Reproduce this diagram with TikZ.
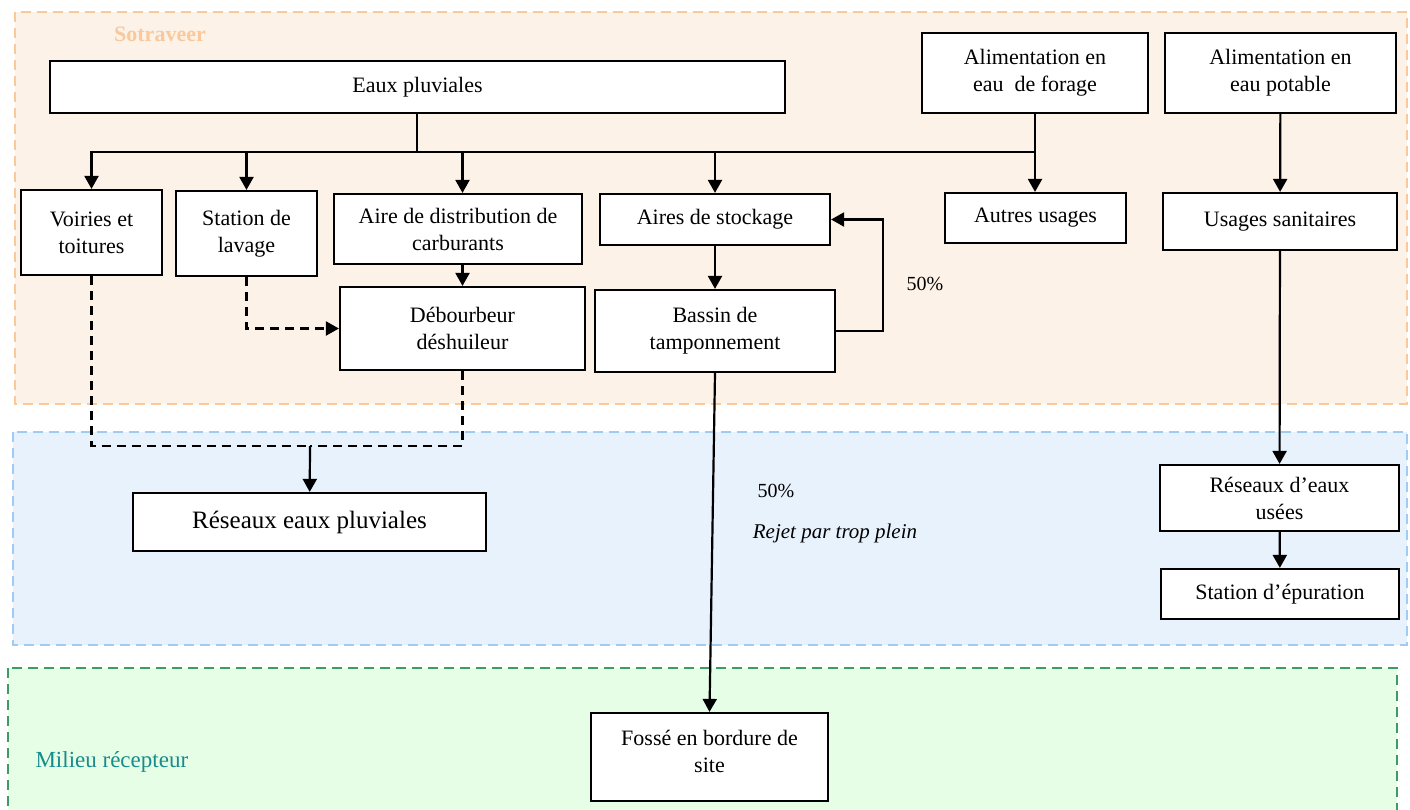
\documentclass[tikz,border=0pt]{standalone}
\usepackage{fontspec}
\setmainfont{Liberation Serif}
\usepackage{xcolor}
\usepackage{tikz}
\usetikzlibrary{arrows.meta,positioning,calc}
\definecolor{ZoneOr}{HTML}{FDF2E8}
\definecolor{LineOr}{HTML}{F9C99C}
\definecolor{ZoneBl}{HTML}{E8F2FD}
\definecolor{LineBl}{HTML}{9FCBF5}
\definecolor{ZoneGr}{HTML}{E6FDE6}
\definecolor{LineGr}{HTML}{3D9B66}
\definecolor{TealTxt}{HTML}{168C8C}

\begin{document}
\begin{tikzpicture}[x=1pt,y=-1pt,
  box/.style={rectangle,draw,line width=2.2pt,fill=white,align=center,
              inner sep=2pt,font=\fontsize{22}{27}\selectfont},
  zone/.style={line width=2pt,dash pattern=on 10pt off 6pt},
  arr/.style={-{Triangle[length=13pt,width=14pt]},line width=2.2pt,solid},
  dsh/.style={line width=2.2pt,dash pattern=on 9pt off 6pt},
  lbl/.style={font=\fontsize{20}{24}\selectfont}]
\useasboundingbox (0,0) rectangle (1410,809);
% zones
\draw[zone,draw=LineOr,fill=ZoneOr] (15,12) rectangle (1407,404);
\draw[zone,draw=LineBl,fill=ZoneBl] (13,432) rectangle (1407,645);
\draw[zone,draw=LineGr,fill=ZoneGr] (8,668) rectangle (1397,830);
\node[font=\fontsize{22}{26}\selectfont\bfseries,text=LineOr] (site) at (160,34) {Sotraveer};
\node[lbl,font=\fontsize{23}{27}\selectfont,text=TealTxt,anchor=west] (milieu) at (32,762) {Milieu récepteur};
% sources
\node[box,minimum width=735pt,minimum height=52pt] (ep) at (417.5,87) {Eaux pluviales};
\node[box,minimum width=226pt,minimum height=80pt] (forage) at (1035,73) {Alimentation en\\eau \ de forage};
\node[box,minimum width=231pt,minimum height=80pt] (potable) at (1280.5,73) {Alimentation en\\eau potable};
% usages
\node[box,minimum width=141pt,minimum height=85pt] (voi) at (91.5,232.5) {Voiries et\\toitures};
\node[box,minimum width=141pt,minimum height=85pt] (lav) at (246.5,233.5) {Station de\\lavage};
\node[box,minimum width=248pt,minimum height=70pt] (carb) at (458,229) {Aire de distribution de\\carburants};
\node[box,minimum width=230pt,minimum height=51pt] (stock) at (715,219.5) {Aires de stockage};
\node[box,minimum width=181pt,minimum height=50pt] (autres) at (1035.5,218) {Autres usages};
\node[box,minimum width=234pt,minimum height=57pt] (sanit) at (1280,221.5) {Usages sanitaires};
% traitement
\node[box,minimum width=245pt,minimum height=83pt] (deb) at (462.5,328.5) {Débourbeur\\déshuileur};
\node[box,minimum width=240pt,minimum height=82pt] (bassin) at (715,331) {Bassin de\\tamponnement};
% reseaux
\node[box,minimum width=353pt,minimum height=58pt,font=\fontsize{25}{30}\selectfont] (rep) at (309.5,522) {Réseaux eaux pluviales};
\node[box,minimum width=239pt,minimum height=66pt] (reu) at (1279.5,498) {Réseaux d’eaux\\usées};
\node[box,minimum width=238pt,minimum height=50pt] (epur) at (1280,594) {Station d’épuration};
\node[box,minimum width=237pt,minimum height=88pt] (fosse) at (709.5,757) {Fossé en bordure de\\site\\[-16pt]\mbox{}};
% labels
\node[lbl] (pc1) at (925,284) {50\%};
\node[lbl] (pc2) at (776,491) {50\%};
\node[lbl,font=\fontsize{21}{25}\selectfont\itshape] (rejet) at (835,533) {Rejet par trop plein};
% connectors
\coordinate (hub) at (417,152);
\coordinate (merge) at (310,446);
\draw[line width=2.2pt] (ep.south -| hub) -- (hub);
\draw[line width=2.2pt] (hub) -- (hub -| forage.south);
\draw[arr] (hub) -| (voi);
\draw[arr] (hub) -| (lav);
\draw[arr] (hub) -| (deb.north |- carb.north);
\draw[arr] (hub) -| (stock);
\draw[arr] (forage.south) -- (forage.south |- autres.north);
\draw[arr] (potable) -- (sanit);
\draw[arr] (deb.north |- carb.south) -- (deb.north);
\draw[arr] (stock) -- (bassin);
\draw[arr] (bassin.east) -- ++(47,0) |- (stock.east);
\draw[arr] (bassin.south) -- (fosse.north);
\draw[dsh,arr,dash pattern=on 9pt off 6pt] (lav.south) |- (deb.west);
\draw[dsh] (voi.south) |- (merge);
\draw[dsh] (deb.south) |- (merge);
\draw[arr] (merge) -- (rep);
\draw[arr] (sanit) -- (reu);
\draw[arr] (reu) -- (epur);
\end{tikzpicture}
\end{document}
